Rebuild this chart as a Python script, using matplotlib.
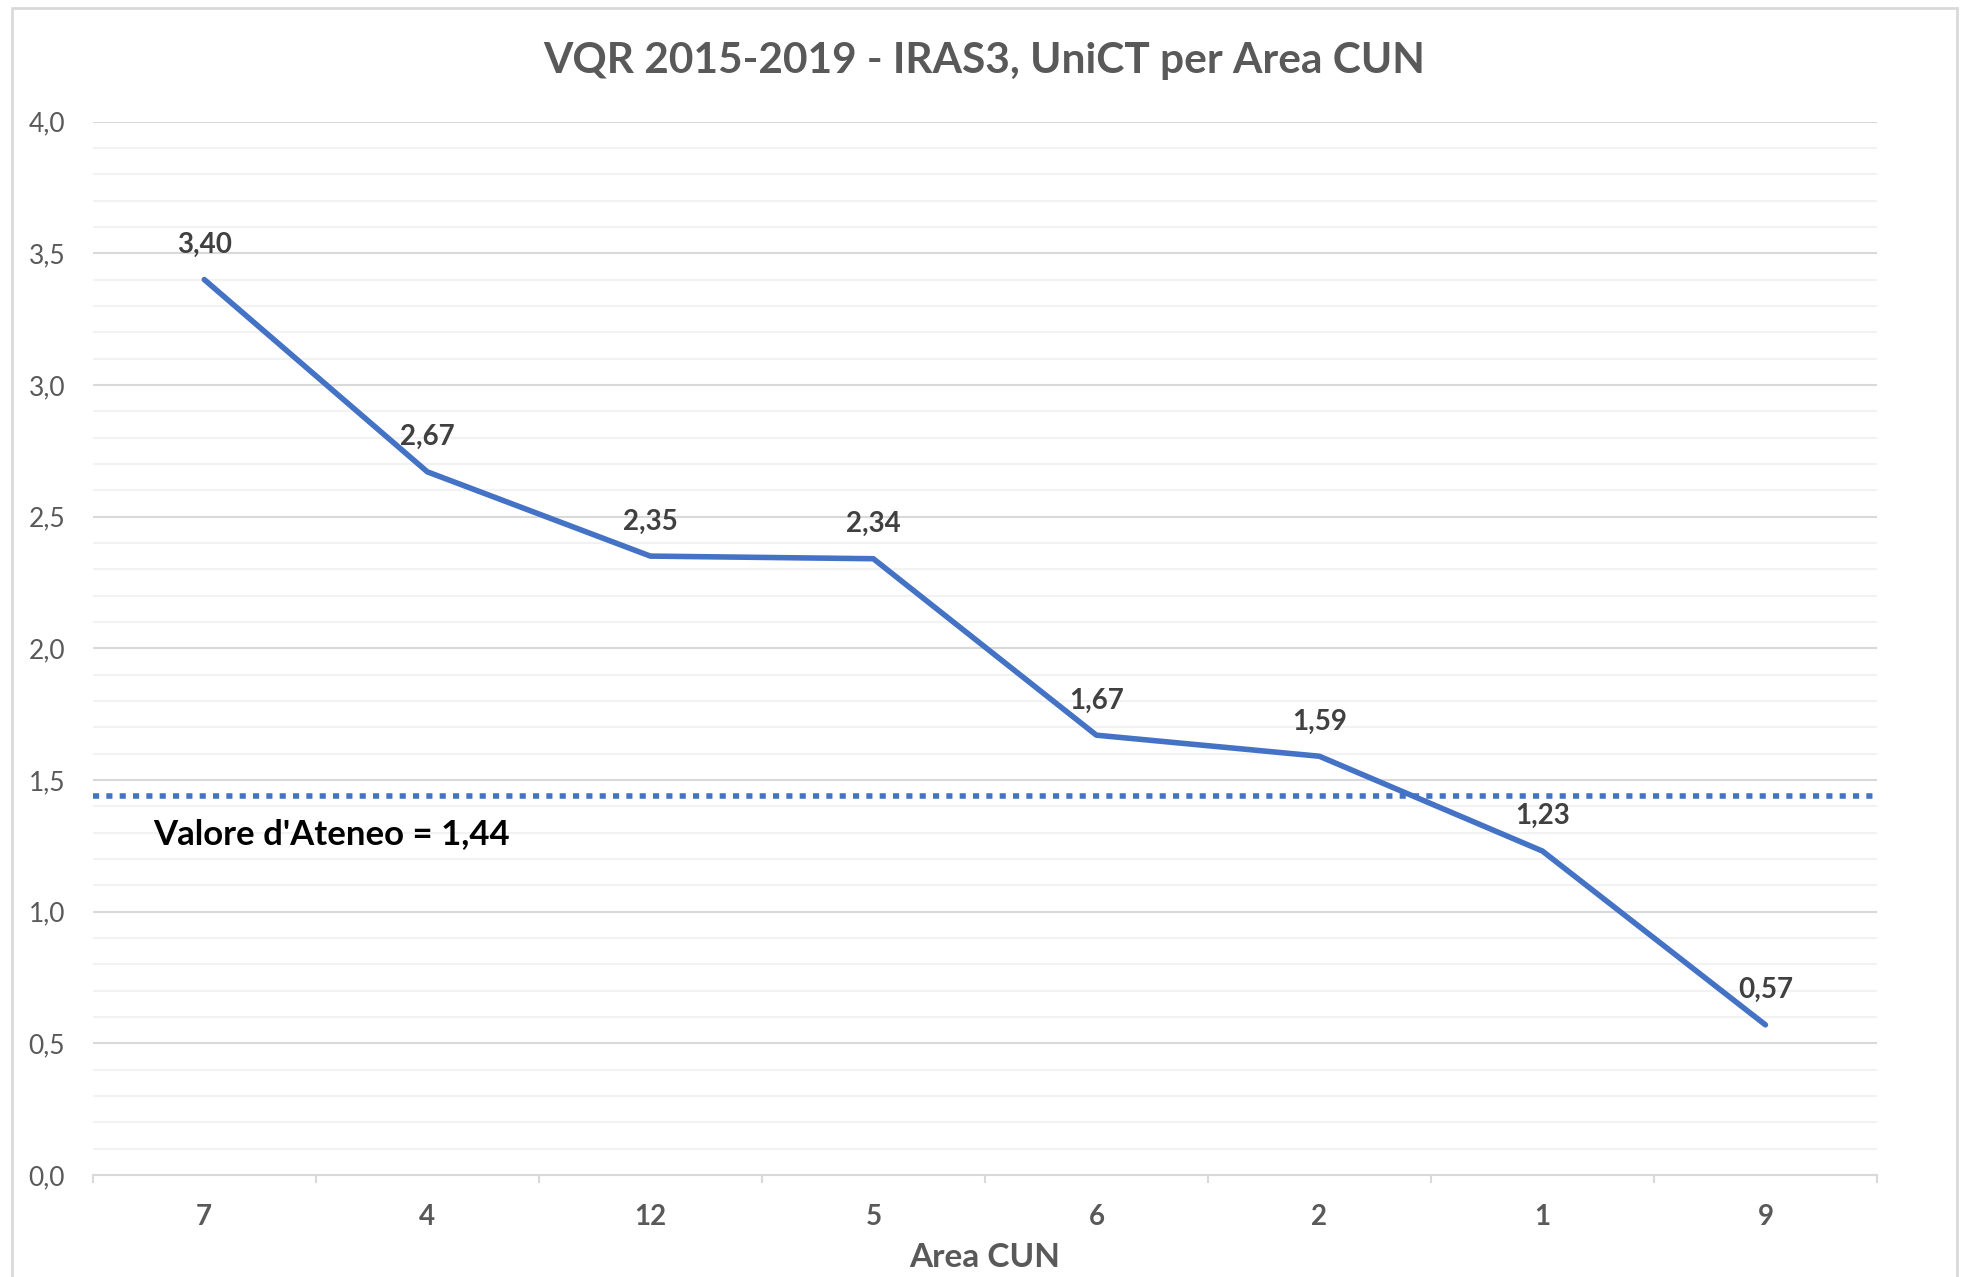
import matplotlib
matplotlib.use('Agg')
import matplotlib.pyplot as plt
from matplotlib.patches import Rectangle
from matplotlib.ticker import MultipleLocator, FixedLocator, FuncFormatter

# ========== Dati ==========
aree = ['7', '4', '12', '5', '6', '2', '1', '9']
iras3 = [3.40, 2.67, 2.35, 2.34, 1.67, 1.59, 1.23, 0.57]
valore_ateneo = 1.44

titolo = 'VQR 2015-2019 - IRAS3, UniCT per Area CUN'
etichetta_x = 'Area CUN'

# ========== Stile ==========
plt.rcParams['font.family'] = ['Lato', 'DejaVu Sans']
blu = '#4472C4'
grigio_testo = '#595959'
grigio_etichette = '#404040'

fig = plt.figure(figsize=(19.66, 12.77), dpi=100)
ax = fig.add_axes([0.0472, 0.0799, 0.9075, 0.8249])

# cornice del grafico
fig.patches.append(Rectangle((0.0061, -0.02), 0.9893, 1.0137, transform=fig.transFigure,
                             fill=False, edgecolor='#D9D9D9', linewidth=2))

x = list(range(len(aree)))
ax.plot(x, iras3, color=blu, linewidth=4.0, solid_capstyle='round', solid_joinstyle='round', zorder=3)

# linea del valore d'ateneo
ax.axhline(valore_ateneo, color=blu, linewidth=4.0, linestyle=(0, (1.1, 1.3)),
           dash_capstyle='butt', zorder=2)
ax.text(-0.23, 1.295, "Valore d'Ateneo = " + f'{valore_ateneo:.2f}'.replace('.', ','),
        fontsize=25, fontweight='bold', color='black', ha='left', va='center')

# etichette dati
for xi, v in zip(x, iras3):
    ax.annotate(f'{v:.2f}'.replace('.', ','), (xi, v), xytext=(0, 25), textcoords='offset points',
                ha='center', va='center', fontsize=20, fontweight='bold', color=grigio_etichette)

# ---------- Assi ----------
ax.set_xlim(-0.5, len(aree) - 0.5)
ax.set_ylim(0, 4.0)

ax.yaxis.set_major_locator(MultipleLocator(0.5))
ax.yaxis.set_minor_locator(MultipleLocator(0.1))
ax.yaxis.set_major_formatter(FuncFormatter(lambda v, p: f'{v:.1f}'.replace('.', ',')))
ax.grid(axis='y', which='major', color='#D9D9D9', linewidth=1.5, zorder=0)
ax.grid(axis='y', which='minor', color='#F2F2F2', linewidth=1.5, zorder=0)
ax.set_axisbelow(True)

ax.set_xticks(x)
ax.set_xticklabels(aree, fontsize=20, fontweight='bold', color=grigio_testo)
ax.xaxis.set_minor_locator(FixedLocator([i - 0.5 for i in range(len(aree) + 1)]))
ax.tick_params(axis='x', which='major', length=0, pad=21)
ax.tick_params(axis='x', which='minor', length=6, width=1.5, color='#D9D9D9')
ax.tick_params(axis='y', which='both', length=0, pad=20, labelsize=19, labelcolor=grigio_testo)

for lato in ['top', 'right', 'left']:
    ax.spines[lato].set_visible(False)
ax.spines['bottom'].set_color('#D9D9D9')
ax.spines['bottom'].set_linewidth(1.5)

ax.set_xlabel(etichetta_x, fontsize=24, fontweight='bold', color=grigio_testo, labelpad=9)
fig.text(0.5005, 0.9526, titolo, fontsize=30.5, fontweight='bold', color=grigio_testo,
         ha='center', va='center')

plt.savefig('out.png', dpi=100)
